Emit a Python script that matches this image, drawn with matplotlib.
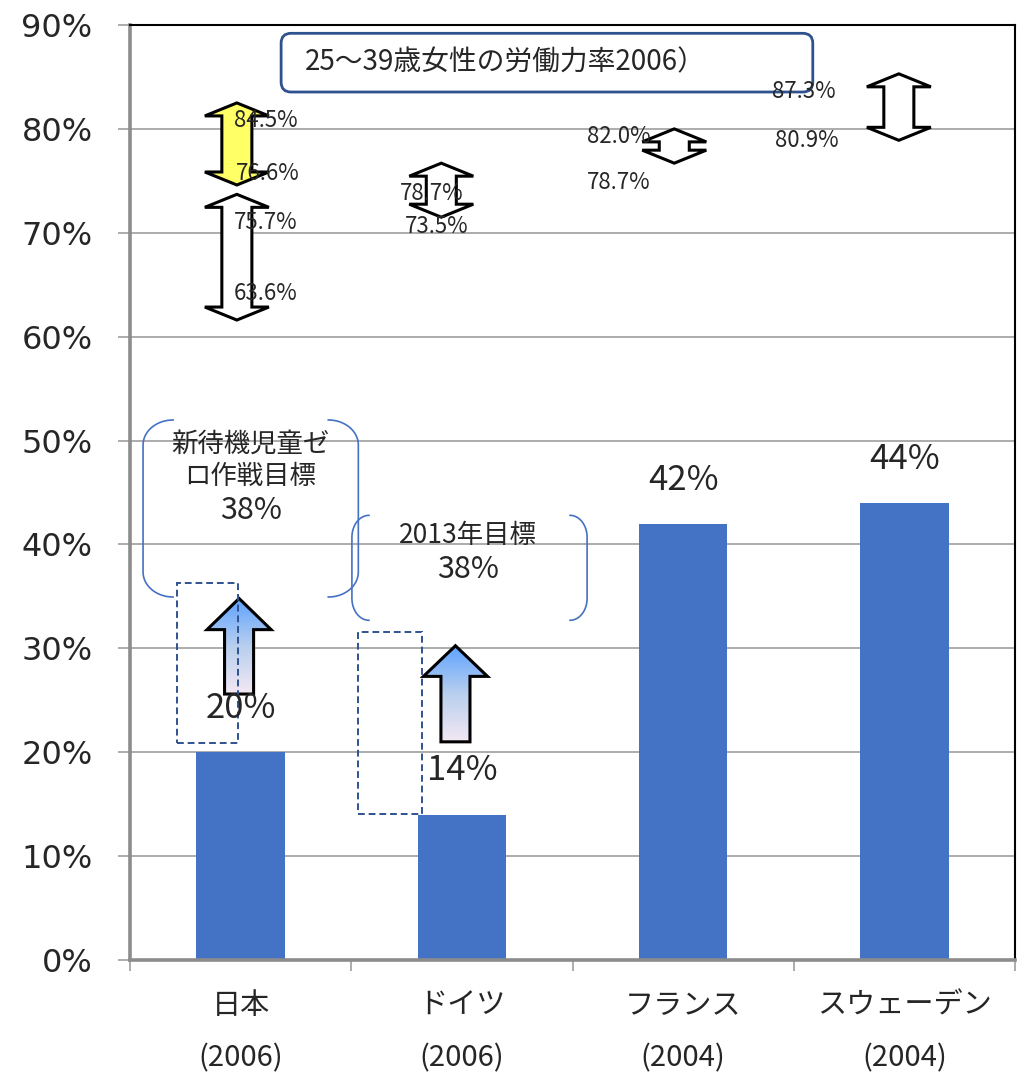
import numpy as np
import matplotlib
matplotlib.use("Agg")
import matplotlib.pyplot as plt
from matplotlib.patches import Polygon, Rectangle, FancyBboxPatch
from matplotlib.colors import LinearSegmentedColormap
import matplotlib.transforms as mtransforms

JP = ["Noto Sans CJK JP", "DejaVu Sans"]
plt.rcParams["font.family"] = JP

# ---- data -------------------------------------------------------------
countries = ["日本", "ドイツ", "フランス", "スウェーデン"]
years = ["(2006)", "(2006)", "(2004)", "(2004)"]
childcare_rate = [20, 14, 42, 44]            # 3歳未満児の保育利用率 (%)
yticks = [0, 10, 20, 30, 40, 50, 60, 70, 80, 90]

# 25〜39歳女性の労働力率 ranges drawn as double arrows (upper, lower)
lfp_high = [84.5, 75.7, 78.7, 82.0, 87.3]
lfp_low = [76.6, 63.6, 73.5, 78.7, 80.9]

# targets for the childcare rate
target_text = ["新待機児童ゼ\nロ作戦目標", "2013年目標"]
target_rate = [38, 38]

title_text = "25〜39歳女性の労働力率2006）"

# ---- layout / style -----------------------------------------------------
BAR_COLOR = "#4472C4"
TEXT = "#262626"
DARK_BLUE = "#2F528F"
px_x = 1 / 221.0          # data-x units per pixel
px_y = 90 / 935.0         # data-y units per pixel

fig = plt.figure(figsize=(10.23, 10.78), dpi=100)
ax = fig.add_axes([130 / 1023, 118 / 1078, 885 / 1023, 935 / 1078])

x = np.arange(len(countries))
ax.bar(x, childcare_rate, width=0.4, color=BAR_COLOR, zorder=2)
for xi, v in zip(x, childcare_rate):
    ax.text(xi, v + 4.2, f"{v}%", ha="center", va="center",
            fontsize=25, color=TEXT, zorder=6)

ax.set_xlim(-0.5, 3.5)
ax.set_ylim(0, 90)
ax.set_yticks(yticks)
ax.set_yticklabels([f"{v}%" for v in yticks], family="DejaVu Sans",
                   fontsize=23, color=TEXT)
ax.yaxis.grid(True, color="#A6A6A6", lw=1.3)
ax.set_axisbelow(True)
ax.tick_params(axis="y", length=9, width=1.3, color="#A6A6A6", pad=18)
ax.set_xticks([-0.5, 0.5, 1.5, 2.5, 3.5])
ax.set_xticklabels([])
ax.tick_params(axis="x", length=8, width=1.3, color="#A6A6A6")
for s in ("left", "bottom"):
    ax.spines[s].set_color("#8C8C8C")
    ax.spines[s].set_linewidth(2.6)
for s in ("top", "right"):
    ax.spines[s].set_color("black")
    ax.spines[s].set_linewidth(1.5)

# category labels on two lines
tr = mtransforms.blended_transform_factory(ax.transData, ax.transAxes)
for xi, c, yr in zip(x, countries, years):
    ax.text(xi, -0.049, c, transform=tr, ha="center", va="center",
            fontsize=21, color=TEXT)
    ax.text(xi, -0.105, yr, transform=tr, ha="center", va="center",
            fontsize=21, color=TEXT)

# ---- double arrows for labour force participation ----------------------
def double_arrow(xc, top, bot, hw, sw, hl):
    return [(xc, top), (xc + hw / 2, top - hl), (xc + sw / 2, top - hl),
            (xc + sw / 2, bot + hl), (xc + hw / 2, bot + hl), (xc, bot),
            (xc - hw / 2, bot + hl), (xc - sw / 2, bot + hl),
            (xc - sw / 2, top - hl), (xc - hw / 2, top - hl)]

arrow_x = [-0.017, -0.017, 0.907, 1.96, 2.975]
arrow_fill = ["#FFFF66", "white", "white", "white", "white"]
arrow_shift = 2.0
for xc, hi, lo, fc in zip(arrow_x, lfp_high, lfp_low, arrow_fill):
    pts = double_arrow(xc, hi - arrow_shift, lo - arrow_shift,
                       64 * px_x, 30 * px_x, 13 * px_y)
    ax.add_patch(Polygon(pts, closed=True, facecolor=fc, edgecolor="black",
                         lw=2.2, joinstyle="miter", zorder=4))

label_pos_high = [(0.115, 80.8), (0.115, 71.0), (0.862, 73.8), (1.708, 79.3), (2.545, 83.6)]
label_pos_low = [(0.124, 75.7), (0.115, 64.2), (0.885, 70.6), (1.708, 74.8), (2.559, 78.9)]
for (xh, yh), (xl, yl), hi, lo in zip(label_pos_high, label_pos_low, lfp_high, lfp_low):
    ax.text(xh, yh, f"{hi:.1f}%", ha="center", va="center", fontsize=16,
            color=TEXT, zorder=5)
    ax.text(xl, yl, f"{lo:.1f}%", ha="center", va="center", fontsize=16,
            color=TEXT, zorder=5)

# ---- upward gradient arrows (toward the targets) ------------------------
grad_cmap = LinearSegmentedColormap.from_list(
    "up", ["#F4E8F4", "#B8CFEE", "#5EA2FF"])

def up_arrow(xc, tip, wing, bot, hw, sw):
    return [(xc, tip), (xc + hw / 2, wing), (xc + sw / 2, wing),
            (xc + sw / 2, bot), (xc - sw / 2, bot), (xc - sw / 2, wing),
            (xc - hw / 2, wing)]

up_specs = [(-0.007, 34.8, 31.8, 25.6), (0.971, 30.25, 27.3, 21.0)]
grad = np.linspace(0, 1, 256).reshape(-1, 1)
for xc, tip, wing, bot in up_specs:
    hw, sw = 64 * px_x, 29 * px_x
    poly = Polygon(up_arrow(xc, tip, wing, bot, hw, sw), closed=True,
                   facecolor="none", edgecolor="black", lw=2.2,
                   joinstyle="miter", zorder=4)
    im = ax.imshow(grad, extent=[xc - hw / 2, xc + hw / 2, bot, tip],
                   origin="lower", aspect="auto", cmap=grad_cmap, zorder=3)
    ax.add_patch(poly)
    im.set_clip_path(poly)

# dashed target boxes above the bars
dash_boxes = [(-0.287, 20.85, 0.276, 15.4), (0.532, 14.05, 0.289, 17.55)]
for x0, y0, w, h in dash_boxes:
    ax.add_patch(Rectangle((x0, y0), w, h, fill=False, edgecolor=DARK_BLUE,
                           lw=1.4, ls=(0, (3.5, 2)), zorder=5))

# ---- bracket pairs around the target texts ------------------------------
def bracket_pair(x0, x1, y0, y1, rx, ry, **kw):
    t = np.linspace(0, np.pi / 2, 30)
    # left bracket
    top = np.column_stack([x0 + rx - rx * np.cos(t), y1 - ry + ry * np.sin(t)])
    bottom = np.column_stack([x0 + rx - rx * np.cos(t), y0 + ry - ry * np.sin(t)])
    left = np.vstack([top[::-1], bottom])
    ax.plot(left[:, 0], left[:, 1], **kw)
    # right bracket
    top = np.column_stack([x1 - rx + rx * np.cos(t), y1 - ry + ry * np.sin(t)])
    bottom = np.column_stack([x1 - rx + rx * np.cos(t), y0 + ry - ry * np.sin(t)])
    right = np.vstack([top[::-1], bottom])
    ax.plot(right[:, 0], right[:, 1], **kw)

bracket_boxes = [(-0.441, 0.532, 34.94, 51.98, 30, 25),
                 (0.503, 1.566, 32.7, 42.8, 17, 22)]
for x0, x1, y0, y1, rx, ry in bracket_boxes:
    bracket_pair(x0, x1, y0, y1, rx * px_x, ry * px_y,
                 color=BAR_COLOR, lw=1.2, zorder=5)

target_pos = [((0.045, 48.1), (0.048, 43.3)), ((1.029, 40.9), (1.029, 37.6))]
for txt, rate, (p_txt, p_rate) in zip(target_text, target_rate, target_pos):
    ax.text(*p_txt, txt, ha="center", va="center", fontsize=19,
            color=TEXT, linespacing=1.25, zorder=6)
    ax.text(*p_rate, f"{rate}%", ha="center", va="center", fontsize=22,
            color=TEXT, zorder=6)

# ---- title box ----------------------------------------------------------
tb_x0, tb_x1, tb_y0, tb_y1 = 0.183, 2.586, 83.55, 89.2
ax.add_patch(FancyBboxPatch((tb_x0, tb_y0), tb_x1 - tb_x0, tb_y1 - tb_y0,
                            boxstyle="round,pad=0,rounding_size=0.045",
                            mutation_aspect=px_y / px_x, facecolor="white",
                            edgecolor=DARK_BLUE, lw=2.0, zorder=4))
ax.text(0.292, 86.4, title_text, ha="left", va="center", fontsize=20,
        color=TEXT, zorder=5)

fig.savefig("out.png", dpi=100)
